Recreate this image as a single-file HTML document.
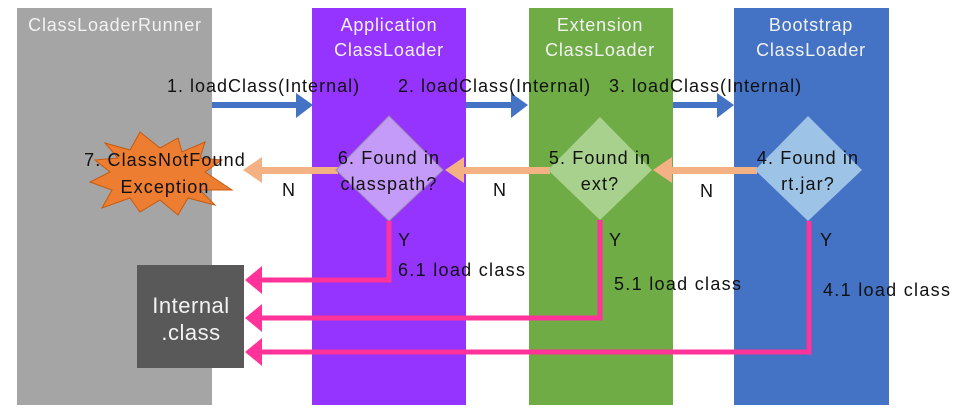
<!DOCTYPE html>
<html><head><meta charset="utf-8"><style>
html,body{margin:0;padding:0;background:#fff;}
svg{display:block;}
text{font-family:"Liberation Sans","Noto Sans CJK KR",sans-serif;}
</style></head><body>
<svg width="957" height="420" viewBox="0 0 957 420" xmlns="http://www.w3.org/2000/svg">
<rect x="0" y="0" width="957" height="420" fill="#fff"/>
<rect x="17" y="8" width="195" height="397" fill="#a5a5a5"/>
<rect x="312" y="8" width="154" height="397" fill="#9533ff"/>
<rect x="529" y="8" width="144" height="397" fill="#6fac46"/>
<rect x="734" y="8" width="155" height="397" fill="#4472c4"/>
<g fill="#f2f2f2" font-size="18" letter-spacing="0.8" text-anchor="middle">
<text x="115" y="31">ClassLoaderRunner</text>
<text x="389" y="31">Application</text><text x="389" y="56">ClassLoader</text>
<text x="600" y="31">Extension</text><text x="600" y="56">ClassLoader</text>
<text x="811" y="31">Bootstrap</text><text x="811" y="56">ClassLoader</text>
</g>
<g fill="#4472c4">
<rect x="212" y="102" width="86" height="6"/><polygon points="296,93 313,105 296,118"/>
<rect x="466" y="102" width="48" height="6"/><polygon points="511,93 528,105 511,118"/>
<rect x="673" y="102" width="46" height="6"/><polygon points="717,93 734,105 717,118"/>
</g>
<g font-size="18" letter-spacing="1" fill="#111">
<text x="167" y="92">1. loadClass(Internal)</text>
<text x="398" y="92">2. loadClass(Internal)</text>
<text x="609" y="92">3. loadClass(Internal)</text>
</g>
<polygon fill="#ed7d31" stroke="#c55a11" stroke-width="1" points="105,143 130,150 140,132 160,148 178,138 182,152 205,142 200,158 222,160 205,172 232,190 200,190 215,205 188,198 178,215 160,200 140,212 130,198 102,208 112,190 90,182 110,172 95,160 118,158"/>
<g fill="#f4b183">
<rect x="258" y="167" width="80" height="7"/><polygon points="243,170 262,157 262,183"/>
<rect x="460" y="167" width="90" height="7"/><polygon points="445,170 464,157 464,183"/>
<rect x="668" y="167" width="89" height="7"/><polygon points="653,170 672,157 672,183"/>
</g>
<polygon points="389,116 443,170 389,221 336,170" fill="#c59bfa" stroke="#9a8fa8" stroke-width="1"/>
<polygon points="600,117 652,170 600,220 548,170" fill="#a9d18e"/>
<polygon points="808,116 862,170 808,221 755,170" fill="#9dc3e6"/>
<g fill="none" stroke="#ff3399" stroke-width="5">
<polyline points="389,221 389,280 256,280"/>
<polyline points="600,220 600,318 256,318"/>
<polyline points="809,221 809,352 256,352"/>
</g>
<g fill="#ff3399">
<polygon points="245,280 262,266 262,294"/>
<polygon points="245,318 262,304 262,332"/>
<polygon points="245,352 262,338 262,366"/>
</g>
<rect x="137" y="265" width="107" height="103" fill="#595959"/>
<g fill="#f2f2f2" font-size="22" letter-spacing="0.5" text-anchor="middle">
<text x="191" y="313">Internal</text><text x="191" y="340">.class</text>
</g>
<g font-size="18" letter-spacing="1.1" fill="#111" text-anchor="middle">
<text x="165" y="166">7. ClassNotFound</text><text x="165" y="193">Exception</text>
<text x="389" y="164">6. Found in</text><text x="389" y="190">classpath?</text>
<text x="600" y="164">5. Found in</text><text x="600" y="190">ext?</text>
<text x="808" y="164">4. Found in</text><text x="808" y="190">rt.jar?</text>
</g>
<g font-size="18" letter-spacing="1.3" fill="#111">
<text x="282" y="196">N</text><text x="493" y="196">N</text><text x="700" y="197">N</text>
<text x="398" y="246">Y</text><text x="609" y="246">Y</text><text x="820" y="246">Y</text>
<text x="398" y="276">6.1 load class</text>
<text x="614" y="290">5.1 load class</text>
<text x="823" y="296">4.1 load class</text>
</g>
</svg>
</body></html>
